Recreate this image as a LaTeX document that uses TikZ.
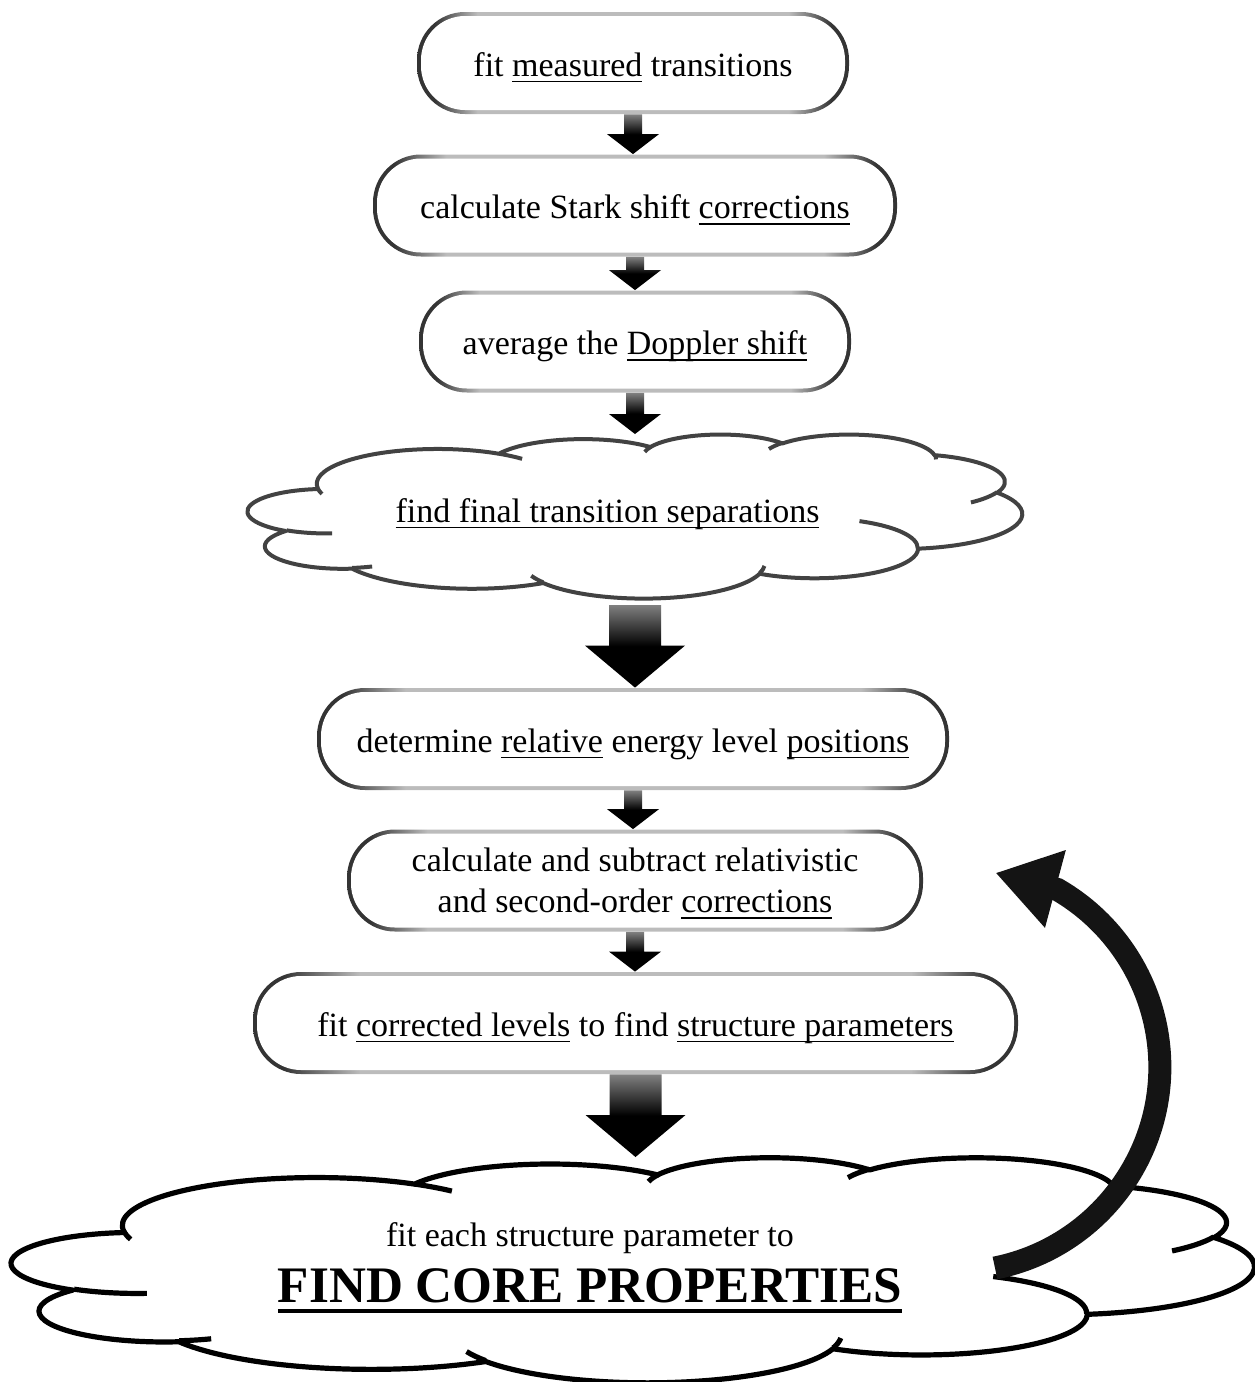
\documentclass[tikz,border=0pt]{standalone}
\usepackage{fontspec}
\setmainfont{Liberation Serif}
\usepackage{tikz}
\usetikzlibrary{calc,arrows.meta,positioning}

\definecolor{rimdark}{RGB}{52,52,52}
\definecolor{rimlight}{RGB}{188,188,188}
\definecolor{arrowtop}{RGB}{128,128,128}
\definecolor{cloudgray}{RGB}{66,66,66}

\pgfdeclarehorizontalshading{rimshade}{100bp}{color(0bp)=(rimdark); color(25bp)=(rimdark); color(27bp)=(rimdark); color(32bp)=(rimlight); color(68bp)=(rimlight); color(73bp)=(rimdark); color(75bp)=(rimdark); color(100bp)=(rimdark)}
\pgfdeclareverticalshading{arrowshade}{100bp}{color(0bp)=(black); color(50bp)=(black); color(75bp)=(arrowtop); color(100bp)=(arrowtop)}

\newcommand{\stepfont}{\fontsize{17}{20.5}\selectfont}
\newcommand{\ulthick}{0.8pt}
\newcommand{\uldepth}{3.1pt}
\newcommand{\underl}[1]{\setbox0=\hbox{#1}\rlap{\smash{\rule[-\uldepth]{\wd0}{\ulthick}}}\box0\relax}

% block arrow pointing down: from, to, half shaft, half head, head length
\newcommand{\downarrowblock}[5]{%
  \shade[shading=arrowshade] let \p1=(#1), \p2=(#2) in
    (\x1-#3,\y1) -- (\x1+#3,\y1) -- (\x1+#3,\y2+#5) -- (\x1+#4,\y2+#5)
    -- (\x1,\y2) -- (\x1-#4,\y2+#5) -- (\x1-#3,\y2+#5) -- cycle;}

% cloud outline: name, top left corner, x unit, y unit, line style
\newcommand{\officecloud}[5]{%
  \begin{scope}[shift={#2}, x=#3, y=#4]
    \draw[#5] (39.00,143.70)
      \foreach \ra/\rb/\sa/\sw [evaluate=\sa as \ts using {atan2(\ra*sin(\sa),\rb*cos(\sa))},
          evaluate=\sa as \dt using {mod(atan2(\ra*sin(\sa+\sw),\rb*cos(\sa+\sw))-atan2(\ra*sin(\sa),\rb*cos(\sa))+720,360)}]
        in {67.53/91.90/-190.4875/123.7805, 53.33/72.67/-144.1024/89.9452,
            43.65/59.45/-145.8079/99.7230, 48.57/65.95/-130.9861/117.2417,
            53.33/72.73/-78.7089/109.0269, 67.75/92.20/-46.2673/130.2690,
            57.85/78.67/0.6250/114.0333, 67.52/92.15/22.4516/115.1726,
            77.20/105.43/66.2426/75.7110, 43.60/59.18/-274.9421/146.7356,
            43.45/59.45/-246.8285/152.5189}
        {arc[start angle=\ts, delta angle=\dt, x radius=\ra, y radius=\rb]} -- cycle;
    \draw[#5]
      \foreach \px/\py/\ra/\rb/\sa/\sw [evaluate=\sa as \ts using {atan2(\ra*sin(\sa),\rb*cos(\sa))},
          evaluate=\sa as \dt using {mod(atan2(\ra*sin(\sa+\sw),\rb*cos(\sa+\sw))-atan2(\ra*sin(\sa),\rb*cos(\sa))+720,360)}]
        in {46.93/261.77/43.45/59.45/86.7420/26.4295, 69.28/348.99/43.60/59.18/73.6105/11.4475,
            164.78/390.90/67.52/92.15/137.6242/14.0811, 288.27/347.51/67.52/92.15/6.4533/15.9984,
            341.29/229.54/57.85/78.67/-70.2924/70.9174, 417.98/153.54/53.33/72.73/30.3180/27.7515,
            383.24/54.26/48.57/65.95/-13.7443/14.8589, 290.78/39.52/48.57/65.95/-149.1815/18.1954,
            221.41/47.20/43.65/59.45/-163.4943/17.6864, 140.00/51.92/67.53/91.90/-66.7070/12.3194,
            41.27/157.89/67.53/91.90/157.6544/11.8582}
        {(\px,\py) arc[start angle=\ts, delta angle=\dt, x radius=\ra, y radius=\rb]};
    \coordinate (#1-n) at (216,0);
    \coordinate (#1-s) at (216,432);
  \end{scope}}

\begin{document}
\begin{tikzpicture}[x=0.5pt, y=-0.5pt,
    stepbox/.style={rectangle, rounded corners=24pt, minimum height=51pt, inner sep=0pt,
      fill=white, align=center, font=\stepfont,
      path picture={
        \shade[shading=rimshade] (path picture bounding box.south west) rectangle (path picture bounding box.north east);
        \fill[white, rounded corners=22pt] ([shift={(2pt,2pt)}]path picture bounding box.south west)
          rectangle ([shift={(-2pt,-2pt)}]path picture bounding box.north east);}},
    oneline/.style={text height=15pt, text depth=2pt},
    cloudtext/.style={align=center, inner sep=0pt, font=\stepfont},
    cloud line/.style={draw=cloudgray, line width=2pt, line join=round},
    loop arrow/.style={draw=black!92, line width=11.5pt, -{Triangle[width=38pt, length=31pt]}}]
  \useasboundingbox (0,0) rectangle (1254,1382);

  \node[stepbox, oneline, minimum width=216pt] (fit) at (633,63) {fit \underl{measured} transitions};
  \node[stepbox, oneline, minimum width=262pt] (stark) at (635,205.5) {calculate Stark shift \underl{corrections}};
  \node[stepbox, oneline, minimum width=216pt] (doppler) at (635,341.5) {average the \underl{Doppler shift}};
  \officecloud{sepcloud}{(248,434)}{0.89583pt}{-0.18981pt}{cloud line}
  \node[cloudtext, oneline] (sep) at (607.5,509) {\underl{find final transition separations}};
  \node[stepbox, oneline, minimum width=316pt] (levels) at (633,739) {determine \underl{relative} energy level \underl{positions}};
  \node[stepbox, text depth=-2pt, minimum width=288pt] (relcorr) at (635,880.5) {calculate and subtract relativistic\\and second-order \underl{corrections}};
  \node[stepbox, oneline, minimum width=382.5pt] (params) at (635.5,1023) {fit \underl{corrected levels} to find \underl{structure parameters}};
  \officecloud{corecloud}{(12,1157)}{1.4375pt}{-0.26042pt}{cloud line, draw=black, line width=2.6pt}
  \node[cloudtext, font=\fontsize{17}{28}\selectfont] (core) at (590,1263)
    {fit each structure parameter to\\{\bfseries\fontsize{25.6}{28}\selectfont
      \renewcommand{\ulthick}{2pt}\renewcommand{\uldepth}{5pt}\underl{FIND CORE PROPERTIES}}};

  \downarrowblock{fit.south}{stark.north}{4.5pt}{13pt}{10pt}
  \downarrowblock{stark.south}{doppler.north}{4.5pt}{13pt}{10pt}
  \downarrowblock{doppler.south}{sepcloud-n}{4.5pt}{13pt}{10pt}
  \downarrowblock{[yshift=-3.5pt]sepcloud-s}{levels.north}{13pt}{25pt}{21pt}
  \downarrowblock{levels.south}{relcorr.north}{4.5pt}{13pt}{10pt}
  \downarrowblock{relcorr.south}{params.north}{4.5pt}{13pt}{10pt}
  \downarrowblock{params.south}{corecloud-n}{13pt}{25pt}{21pt}

  \coordinate (loopstart) at ([shift={(405,5)}]core.center);
  \draw[loop arrow] (loopstart) arc[start angle=-78.7, end angle=60, radius=102.5pt] -- ++(165:32pt);
\end{tikzpicture}
\end{document}
